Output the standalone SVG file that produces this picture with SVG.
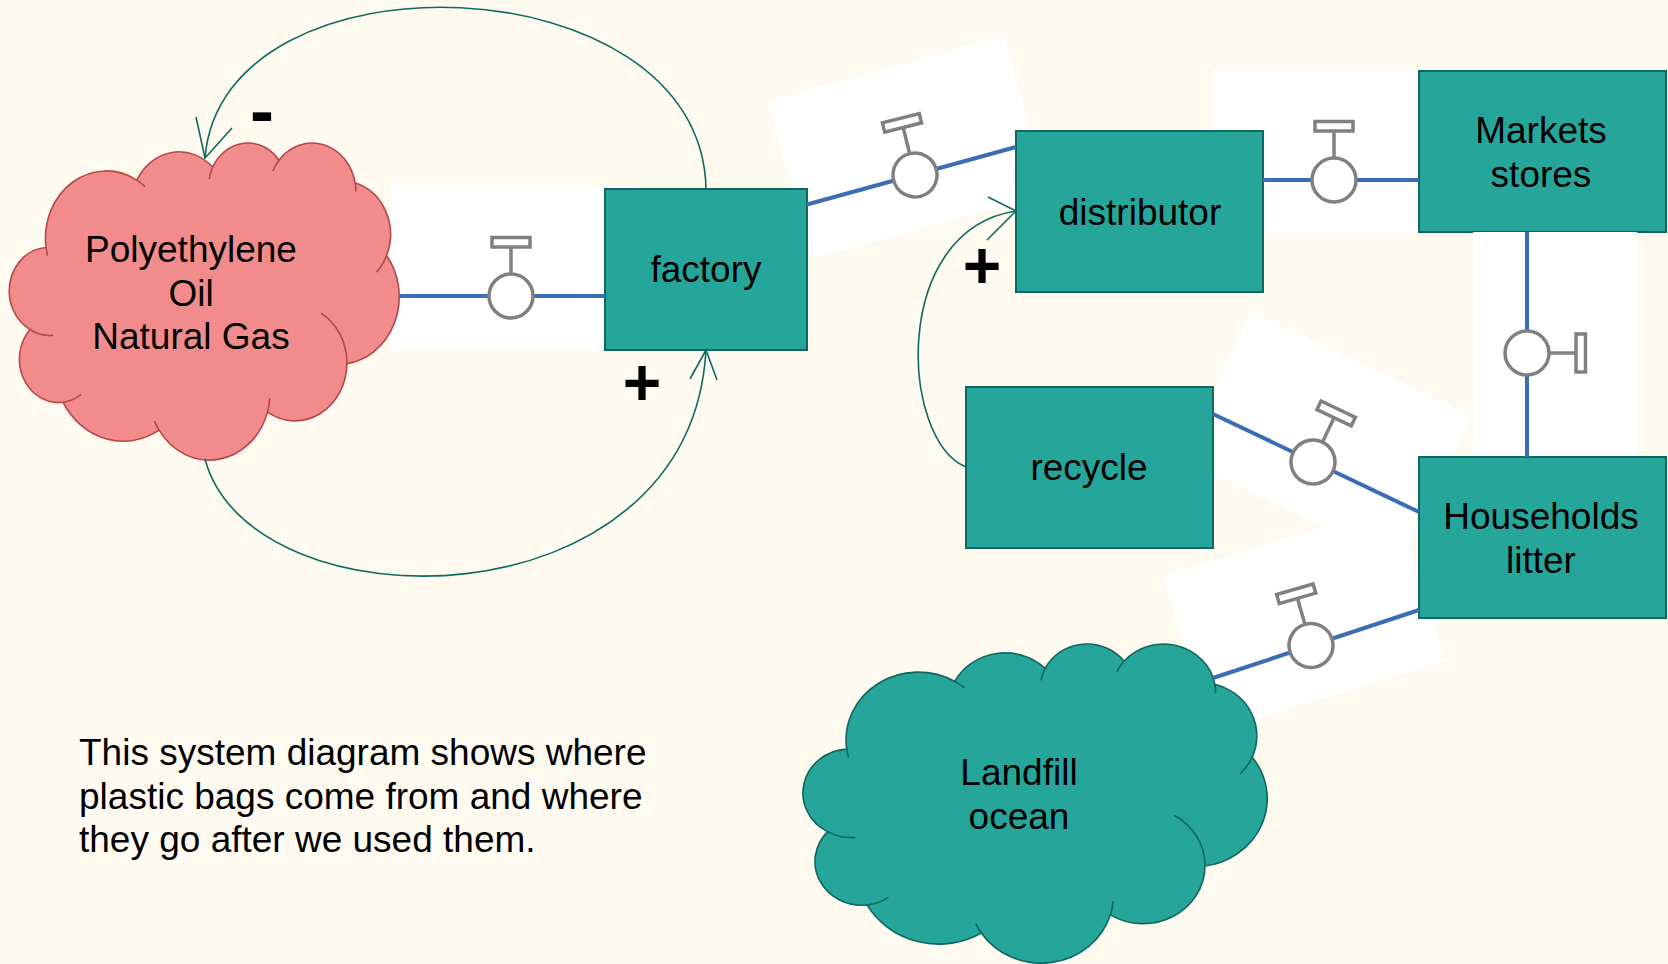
<svg xmlns="http://www.w3.org/2000/svg" xmlns:xlink="http://www.w3.org/1999/xlink" width="1668" height="964" viewBox="0 0 1668 964">
<style>
.bg{fill:#fffaf0}
.backdrop{fill:#ffffff}
.box{fill:#26a69a;stroke:#10685e;stroke-width:2}
.cloud-pink{fill:#f28c8c;stroke:#b3474a;stroke-width:1.6}
.cloud-teal{fill:#26a69a;stroke:#0e665c;stroke-width:1.6}
.crease{fill:none}
.lbl{font-family:"Liberation Sans",Arial,sans-serif;font-size:37px;fill:#000;text-anchor:middle}
.desc{font-family:"Liberation Sans",Arial,sans-serif;font-size:37px;fill:#000}
.sign{font-family:"Liberation Sans",Arial,sans-serif;font-weight:bold;fill:#000;text-anchor:middle}
.pipe{fill:none;stroke:#3a6db5;stroke-width:4}
.valve{fill:#ffffff;stroke:#808080;stroke-width:3.5}
.link{fill:none;stroke:#0e6b5f;stroke-width:1.6}
</style>
<defs>
<path id="cloud" vector-effect="non-scaling-stroke" d="M 9.03 33.26 A 15.63 21.27 0 0 1 32.42 12.04 A 12.34 16.82 0 0 1 51.98 7.94 A 10.10 13.76 0 0 1 69.06 5.74 A 11.24 15.27 0 0 1 88.70 12.90 A 12.34 16.84 0 0 1 96.80 35.78 A 15.68 21.34 0 0 1 86.58 69.91 A 13.39 18.21 0 0 1 66.10 85.21 A 15.63 21.33 0 0 1 38.15 90.89 A 17.87 24.41 0 0 1 13.43 82.11 A 10.09 13.70 0 0 1 4.89 59.14 A 10.06 13.76 0 0 1 9.03 33.26 Z"/>
<path id="creases" vector-effect="non-scaling-stroke" fill="none" d="M 32.42 12.04 A 15.63 21.27 0 0 1 34.57 14.10 M 51.98 7.94 A 10.10 13.76 0 0 0 51.07 11.69 M 69.06 5.74 A 11.24 15.27 0 0 0 67.45 9.16 M 88.70 12.90 A 11.24 15.27 0 0 1 88.88 15.61 M 96.80 35.78 A 12.34 16.84 0 0 1 94.19 41.05 M 79.89 53.99 A 13.39 18.21 0 0 1 86.58 69.91 M 66.71 80.89 A 15.63 21.33 0 0 1 66.10 85.21 M 38.15 90.89 A 15.63 21.33 0 0 1 36.97 88.04 M 18.05 79.72 A 10.09 13.70 0 0 1 13.43 82.11 M 10.85 60.97 A 10.06 13.76 0 0 1 4.89 59.14 M 9.42 35.89 A 15.63 21.27 0 0 1 9.03 33.26"/>
<rect id="bd" x="-121" y="-110" width="245" height="164"/>
<g id="valve">
<line x1="0" y1="-22" x2="0" y2="-49.5"/>
<rect x="-19" y="-58.5" width="38" height="9.5"/>
<circle cx="0" cy="0" r="22"/>
</g>
</defs>
<rect class="bg" x="0" y="0" width="1668" height="964"/>

<g id="backdrops" class="backdrop">
<use href="#bd" transform="translate(511 296)"/>
<use href="#bd" transform="translate(914 175) rotate(-15.5)"/>
<rect x="1213" y="70" width="206" height="164"/>
<use href="#bd" transform="translate(1313 462) rotate(25.5)"/>
<use href="#bd" transform="translate(1311 645.5) rotate(-17)"/>
</g>

<g id="node-polyethylene">
<g transform="translate(11 142) scale(3.88 3.17)">
<use href="#cloud" class="cloud-pink"/>
<use href="#creases" class="cloud-pink crease"/>
</g>
<text class="lbl" x="191" y="262">Polyethylene</text>
<text class="lbl" x="191" y="305.5">Oil</text>
<text class="lbl" x="191" y="349">Natural Gas</text>
</g>

<g id="node-factory">
<rect class="box" x="605" y="189" width="202" height="161"/>
<text class="lbl" x="706" y="282">factory</text>
</g>

<g id="node-distributor">
<rect class="box" x="1016" y="131" width="247" height="161"/>
<text class="lbl" x="1140" y="225">distributor</text>
</g>

<g id="node-markets">
<rect class="box" x="1419" y="71" width="247" height="161"/>
<text class="lbl" x="1541" y="143">Markets</text>
<text class="lbl" x="1541" y="187">stores</text>
</g>

<g id="backdrop-flow4" class="backdrop">
<use href="#bd" transform="translate(1527 353) rotate(90)"/>
</g>

<g id="node-recycle">
<rect class="box" x="966" y="387" width="247" height="161"/>
<text class="lbl" x="1089" y="480">recycle</text>
</g>

<g id="node-households">
<rect class="box" x="1419" y="457" width="247" height="161"/>
<text class="lbl" x="1541" y="529">Households</text>
<text class="lbl" x="1541" y="573">litter</text>
</g>

<g id="node-landfill">
<g transform="translate(805 643) scale(4.62 3.19)">
<use href="#cloud" class="cloud-teal"/>
<use href="#creases" class="cloud-teal crease"/>
</g>
<text class="lbl" x="1019" y="785">Landfill</text>
<text class="lbl" x="1019" y="829">ocean</text>
</g>

<g id="connectors">
<g id="flows">
<path class="pipe" d="M 399 296 L 605 296"/>
<path class="pipe" d="M 807 204.5 L 1016 147"/>
<path class="pipe" d="M 1263 180 L 1419 180"/>
<path class="pipe" d="M 1527 232 L 1527 457"/>
<path class="pipe" d="M 1213 414 L 1419 512"/>
<path class="pipe" d="M 1419 610 L 1213 678"/>
<g class="valve">
<use href="#valve" transform="translate(511 296)"/>
<use href="#valve" transform="translate(915 175) rotate(-14)"/>
<use href="#valve" transform="translate(1334 180)"/>
<use href="#valve" transform="translate(1527 353) rotate(90)"/>
<use href="#valve" transform="translate(1313 462) rotate(25.5)"/>
<use href="#valve" transform="translate(1311 645.5) rotate(-16)"/>
</g>
</g>
<g id="links">
<path class="link" d="M 706 189 C 702 -40 222 -55 205 158"/>
<path class="link" d="M 196 117 L 205 158 L 232 128"/>
<path class="link" d="M 205 459 C 250 630 690 630 706 350"/>
<path class="link" d="M 690 379 L 706 350 L 717 380"/>
<path class="link" d="M 966 467 C 900 440 890 230 1016 211"/>
<path class="link" d="M 988 197 L 1016 211 L 987 240"/>
</g>
</g>

<g id="labels">
<text class="sign" x="262" y="135" font-size="72">-</text>
<text class="sign" x="642" y="405" font-size="66">+</text>
<text class="sign" x="982" y="288" font-size="66">+</text>
</g>

<g id="description">
<text class="desc" x="79" y="765">This system diagram shows where</text>
<text class="desc" x="79" y="809">plastic bags come from and where</text>
<text class="desc" x="79" y="852">they go after we used them.</text>
</g>
</svg>
